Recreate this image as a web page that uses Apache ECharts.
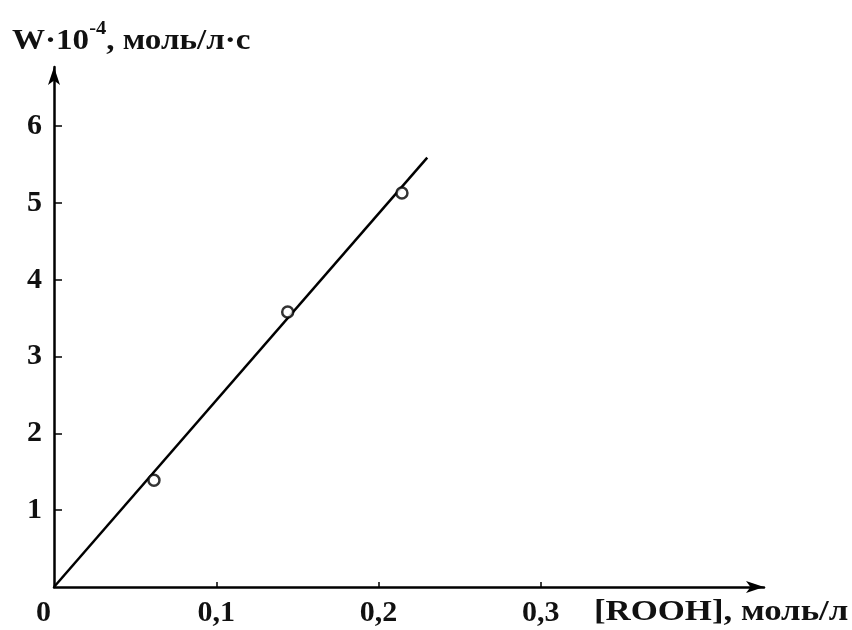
<!DOCTYPE html>
<html>
<head>
<meta charset="utf-8">
<script src="https://cdn.jsdelivr.net/npm/echarts@6/dist/echarts.min.js"></script>
<style>html,body{margin:0;padding:0;background:#fff}#c{width:852px;height:630px}</style>
</head>
<body>
<div id="c"></div>
<script>
const xTicks = [0.1, 0.2, 0.3];
const xTickLabels = ['0,1', '0,2', '0,3'];
const yTicks = [1, 2, 3, 4, 5, 6];
const yTickLabels = ['1', '2', '3', '4', '5', '6'];
const pointsX = [0.0616, 0.144, 0.2144];
const pointsY = [1.39, 3.58, 5.13];
const lineX = [0, 0.23];
const lineY = [0, 5.59];
const xMax = 0.4375;
const yMax = 6.77;

const FONT = '"Liberation Serif", "DejaVu Serif", serif';
const chart = echarts.init(document.getElementById('c'), null, {renderer: 'canvas'});
const labelStyle = {fontFamily: FONT, fontWeight: 'bold', fontSize: 30, color: '#111'};

chart.setOption({
  animation: false,
  backgroundColor: '#fff',
  grid: {left: 54, right: 88, top: 67, bottom: 43, containLabel: false},
  xAxis: {
    type: 'value', min: 0, max: xMax,
    axisLine: {show: true, symbol: ['none', 'arrow'], symbolSize: [9, 18], lineStyle: {color: '#000', width: 2.5}},
    axisTick: {show: true, inside: true, length: 5, customValues: xTicks, lineStyle: {color: '#000', width: 1.5}},
    axisLabel: Object.assign({margin: 11, customValues: xTicks,
      formatter: v => xTickLabels[xTicks.findIndex(t => Math.abs(t - v) < 1e-9)] || ''}, labelStyle),
    splitLine: {show: false}
  },
  yAxis: {
    type: 'value', min: 0, max: yMax,
    axisLine: {show: true, symbol: ['none', 'arrow'], symbolSize: [9, 18], lineStyle: {color: '#000', width: 2.5}},
    axisTick: {show: true, inside: true, length: 8, customValues: yTicks, lineStyle: {color: '#000', width: 1.5}},
    axisLabel: Object.assign({margin: 12, customValues: yTicks,
      formatter: v => yTickLabels[yTicks.findIndex(t => Math.abs(t - v) < 1e-9)] || ''}, labelStyle),
    splitLine: {show: false}
  },
  graphic: [
    {type: 'text', left: 36, top: 598, style: {text: '0', font: 'bold 30px ' + FONT, fill: '#111'}},
    {type: 'text', left: 12, top: 20, scaleX: 1.14, style: {
      text: '{a|W·10}{s|-4}{a|, моль/л·с}',
      rich: {
        a: {fontFamily: FONT, fontWeight: 'bold', fontSize: 29, fill: '#111', color: '#111', lineHeight: 36, verticalAlign: 'bottom'},
        s: {fontFamily: FONT, fontWeight: 'bold', fontSize: 18, fill: '#111', color: '#111', lineHeight: 36, verticalAlign: 'top'}
      }
    }},
    {type: 'text', left: 594, top: 598, scaleX: 1.2, style: {text: '[ROOH], моль/л', font: 'bold 29px ' + FONT, fill: '#111'}}
  ],
  series: [
    {
      type: 'line', data: lineX.map((x, i) => [x, lineY[i]]),
      showSymbol: false, symbol: 'none', lineStyle: {color: '#000', width: 2.5}, z: 2
    },
    {
      type: 'scatter', data: pointsX.map((x, i) => [x, pointsY[i]]),
      symbol: 'circle', symbolSize: 11,
      itemStyle: {color: '#fff', borderColor: '#000', borderWidth: 2.5}, z: 3
    }
  ]
});
</script>
</body>
</html>
